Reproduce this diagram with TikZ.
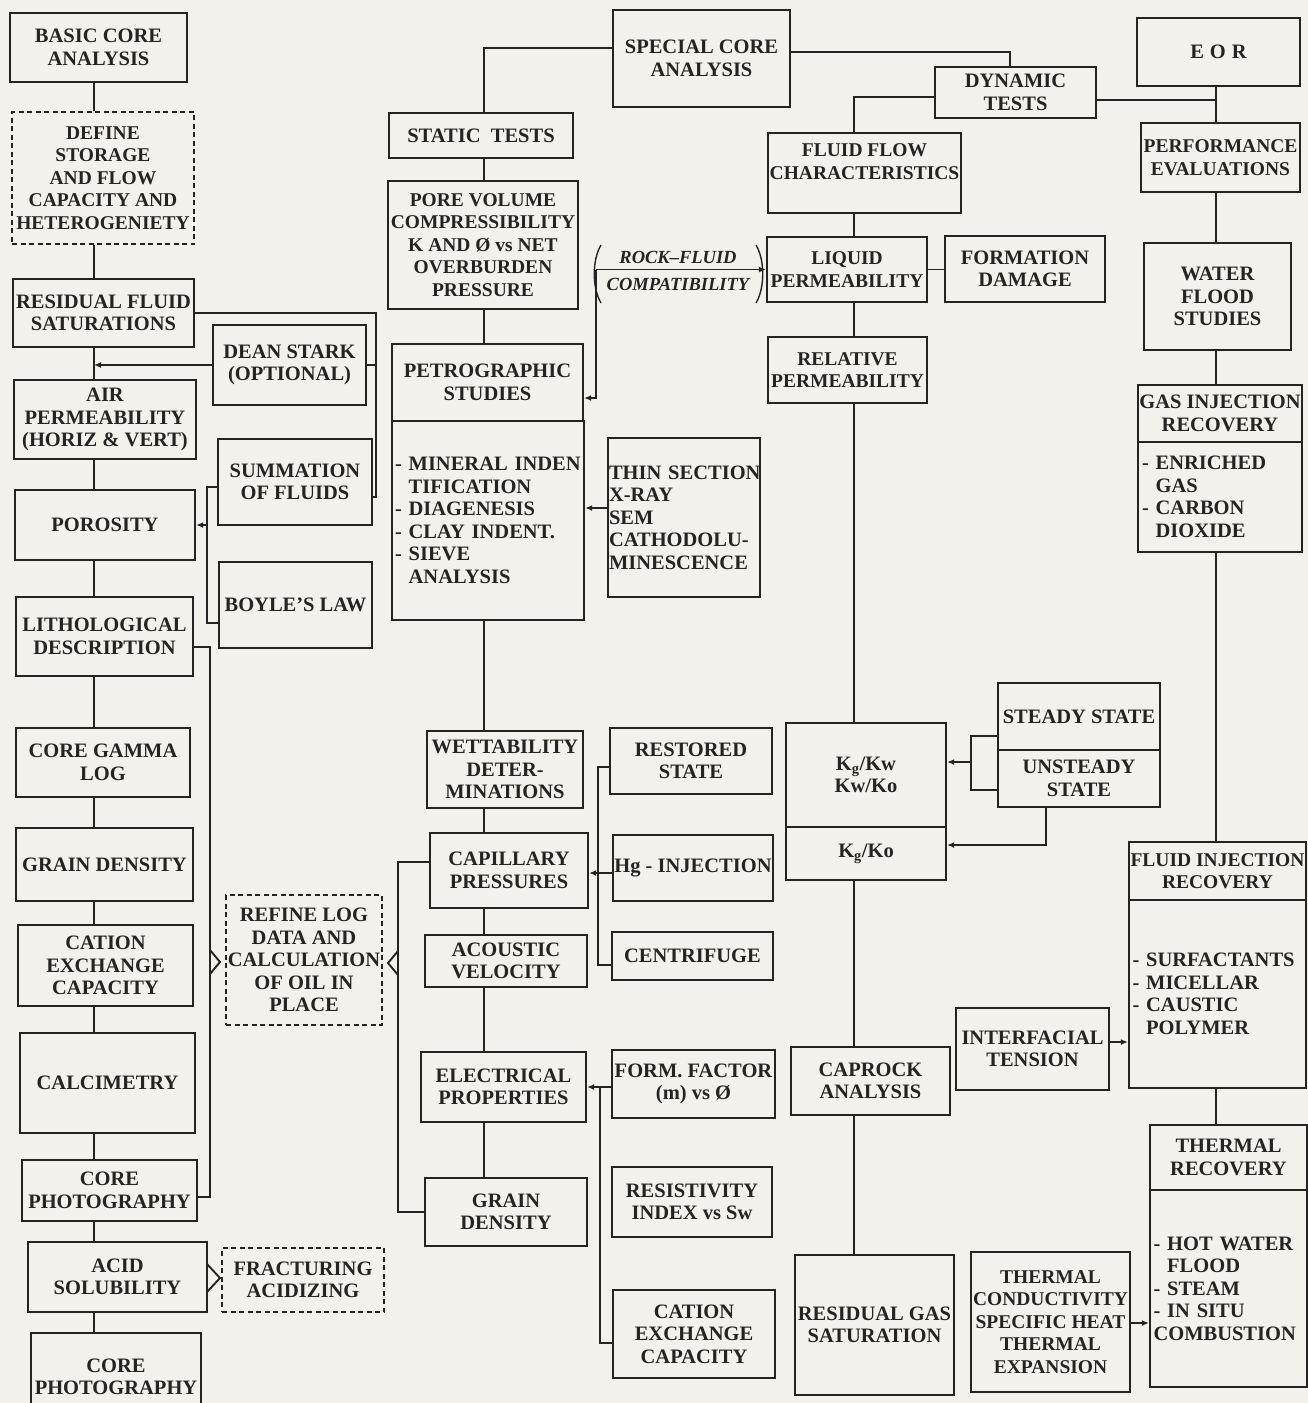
\documentclass[tikz,border=0pt]{standalone}
\usepackage{fontspec}
\setmainfont{Liberation Serif}
\usetikzlibrary{arrows.meta}
\definecolor{bg}{RGB}{244,241,237}
\definecolor{ink}{RGB}{38,36,34}
\newcommand\nohy{\hyphenpenalty 10000 \exhyphenpenalty 10000\relax}
\newcommand\cbx[7]{%
  \pgfmathsetmacro\cbxw{#5-#3}%
  \pgfmathsetmacro\cbxh{#6-#4}%
  \node[#1,minimum width=\cbxw pt,minimum height=\cbxh pt] (#2) at ({(#3+#5)/2},{(#4+#6)/2}) {#7};}
\begin{document}
\begin{tikzpicture}[x=1pt,y=-1pt,
  box/.style={draw=ink,line width=2.3pt,inner xsep=1pt,inner ysep=2pt,align=center,text=ink,
    font={\fontsize{20.5}{22.5}\selectfont\bfseries\nohy}},
  sm/.style={font={\fontsize{19.5}{22.5}\selectfont\bfseries\nohy}},
  dbox/.style={box,dash pattern=on 5pt off 3.5pt,line width=2.5pt},
  lbox/.style={box,align=left},
  ln/.style={draw=ink,line width=1.9pt},
  arr/.style={ln,-{Latex[length=7pt,width=6pt]}},
  rflab/.style={text=ink,inner sep=0pt,font=\fontsize{18.5}{20}\selectfont\bfseries\itshape}
]
\useasboundingbox (0,0) rectangle (1308,1403);
\fill[bg] (0,0) rectangle (1308,1403);

% ---------- left column
\cbx{box}{basic}{10}{13}{187}{82}{BASIC CORE\\ANALYSIS}
\cbx{dbox,sm}{define}{12}{112}{194}{244}{DEFINE\\STORAGE\\AND FLOW\\CAPACITY AND\\HETEROGENIETY}
\cbx{box}{rfs}{13}{279}{194}{347}{RESIDUAL FLUID\\SATURATIONS}
\cbx{box}{dean}{213}{325}{366}{405}{DEAN STARK\\(OPTIONAL)}
\cbx{box}{air}{14}{380}{196}{459}{AIR\\PERMEABILITY\\(HORIZ \& VERT)}
\cbx{box}{summ}{218}{439}{372}{525}{SUMMATION\\OF FLUIDS}
\cbx{box}{poro}{15}{490}{195}{560}{POROSITY}
\cbx{box}{boyle}{219}{562}{372}{648}{BOYLE'S LAW}
\cbx{box}{lith}{16}{597}{193}{676}{LITHOLOGICAL\\DESCRIPTION}
\cbx{box}{gamma}{16}{728}{190}{797}{CORE GAMMA\\LOG}
\cbx{box}{grain}{16}{828}{193}{901}{GRAIN DENSITY}
\cbx{box}{cec}{18}{925}{193}{1006}{CATION\\EXCHANGE\\CAPACITY}
\cbx{box}{calc}{20}{1033}{195}{1133}{CALCIMETRY}
\cbx{box}{photo}{22}{1160}{197}{1221}{CORE\\PHOTOGRAPHY}
\cbx{box}{acid}{28}{1242}{207}{1312}{ACID\\SOLUBILITY}
\cbx{dbox}{frac}{222}{1248}{384}{1312}{FRACTURING\\ACIDIZING}
\cbx{box}{photob}{31}{1333}{201}{1421}{CORE\\PHOTOGRAPHY}
\cbx{dbox}{refine}{226}{895}{382}{1025}{REFINE LOG\\DATA AND\\CALCULATION\\OF OIL IN\\PLACE}

% ---------- middle column
\cbx{box}{sca}{613}{10}{790}{107}{SPECIAL CORE\\ANALYSIS}
\cbx{box}{static}{389}{113}{573}{158}{STATIC\ \ TESTS}
\cbx{box,sm}{pore}{388}{181}{578}{309}{PORE VOLUME\\COMPRESSIBILITY\\K AND Ø vs NET\\OVERBURDEN\\PRESSURE}
\cbx{box}{petroH}{392}{344}{583}{421}{PETROGRAPHIC\\STUDIES}
\cbx{lbox,text width=186pt}{petroB}{392}{421}{584}{620}{- MINERAL INDEN\\\hphantom{- }TIFICATION\\- DIAGENESIS\\- CLAY INDENT.\\- SIEVE\\\hphantom{- }ANALYSIS}
\cbx{lbox,text width=150pt}{thin}{608}{438}{760}{597}{\mbox{THIN SECTION}\\X-RAY\\SEM\\CATHODOLU-\\MINESCENCE}
\cbx{box}{wett}{427}{731}{583}{808}{WETTABILITY\\DETER-\\MINATIONS}
\cbx{box}{rest}{610}{728}{772}{794}{RESTORED\\STATE}
\cbx{box}{capp}{430}{833}{588}{908}{CAPILLARY\\PRESSURES}
\cbx{box}{hg}{613}{835}{773}{901}{Hg - INJECTION}
\cbx{box}{cent}{612}{932}{773}{980}{CENTRIFUGE}
\cbx{box}{acou}{425}{935}{587}{987}{ACOUSTIC\\VELOCITY}
\cbx{box}{elec}{421}{1052}{586}{1122}{ELECTRICAL\\PROPERTIES}
\cbx{box}{form}{612}{1050}{775}{1118}{FORM. FACTOR\\(m) vs Ø}
\cbx{box}{gdm}{425}{1178}{587}{1246}{GRAIN\\DENSITY}
\cbx{box}{resi}{612}{1167}{772}{1237}{RESISTIVITY\\INDEX vs Sw}
\cbx{box}{cecm}{613}{1290}{775}{1378}{CATION\\EXCHANGE\\CAPACITY}

% ---------- right-middle column
\cbx{box}{dyn}{935}{67}{1096}{118}{DYNAMIC\\TESTS}
\cbx{box,sm}{ffc}{768}{133}{961}{213}{FLUID FLOW\\CHARACTERISTICS\\\mbox{}}
\cbx{box,sm}{liq}{767}{237}{927}{302}{LIQUID\\PERMEABILITY}
\cbx{box}{fdam}{945}{236}{1105}{302}{FORMATION\\DAMAGE}
\cbx{box,sm}{rel}{768}{337}{927}{403}{RELATIVE\\PERMEABILITY}
\cbx{box}{kga}{786}{723}{946}{827}{K\textsubscript{g}/Kw\\Kw/Ko}
\cbx{box}{kgb}{786}{827}{946}{880}{K\textsubscript{g}/Ko}
\cbx{box}{ss}{998}{683}{1160}{750}{STEADY STATE}
\cbx{box}{us}{998}{750}{1160}{807}{UNSTEADY\\STATE}
\cbx{box}{caprock}{791}{1047}{950}{1115}{CAPROCK\\ANALYSIS}
\cbx{box}{ift}{956}{1008}{1109}{1090}{INTERFACIAL\\TENSION}
\cbx{box}{rgs}{795}{1255}{954}{1395}{RESIDUAL GAS\\SATURATION}
\cbx{box,sm}{tcs}{971}{1252}{1130}{1392}{THERMAL\\CONDUCTIVITY\\SPECIFIC HEAT\\THERMAL\\EXPANSION}

% ---------- right column
\cbx{box}{eor}{1137}{18}{1300}{86}{E\hspace{6pt}O\hspace{6pt}R}
\cbx{box,sm}{perf}{1141}{123}{1300}{192}{PERFORMANCE\\EVALUATIONS}
\cbx{box}{wfs}{1144}{243}{1291}{350}{WATER\\FLOOD\\STUDIES}
\cbx{box}{gih}{1138}{385}{1302}{442}{GAS INJECTION\\RECOVERY}
\cbx{lbox,text width=156pt}{gib}{1138}{442}{1302}{552}{- ENRICHED\\\hphantom{- }GAS\\- CARBON\\\hphantom{- }DIOXIDE}
\cbx{box,sm}{fih}{1129}{842}{1306}{900}{FLUID INJECTION\\RECOVERY}
\cbx{lbox,text width=170pt}{fib}{1129}{900}{1306}{1088}{- SURFACTANTS\\- MICELLAR\\- CAUSTIC\\\hphantom{- }POLYMER}
\cbx{box}{trh}{1150}{1125}{1307}{1190}{THERMAL\\RECOVERY}
\cbx{lbox,text width=150pt}{trb}{1150}{1190}{1307}{1387}{- HOT WATER\\\hphantom{- }FLOOD\\- STEAM\\- IN SITU\\COMBUSTION}

% ---------- rock-fluid label
\node[rflab] (rfa) at (678,257) {ROCK--FLUID};
\node[rflab] (rfb) at (678,284) {COMPATIBILITY};

% ---------- helper coordinates
\coordinate (cL) at (94,0);
\coordinate (cM) at (484,0);
\coordinate (cR) at (854,0);
\coordinate (cE) at (1216,0);
\foreach \y in {48,52,97,100,313,365,398,487,497,508,525,623,647,736,762,767,790,845,862,873,962,965,1042,1087,1197,1212,1323,1343}
  \coordinate (h\y) at (0,\y);
\coordinate (xd) at (1010,0);
\coordinate (rf) at (596,0);
\coordinate (b1) at (598,0);
\coordinate (b2) at (600,0);
\coordinate (b3) at (207,0);
\coordinate (b4) at (376,0);
\coordinate (b5) at (210,0);
\coordinate (b6) at (398,0);
\coordinate (b7) at (971,0);
\coordinate (b8) at (1046,0);

% ---------- column connectors
\foreach \a/\b in {basic/define,define/rfs,rfs/air,air/poro,poro/lith,lith/gamma,gamma/grain,grain/cec,cec/calc,calc/photo,photo/acid,acid/photob}
  \draw[ln] (\a.south -| cL) -- (\b.north -| cL);
\foreach \a/\b in {static/pore,pore/petroH,petroB/wett,wett/capp,capp/acou,acou/elec,elec/gdm}
  \draw[ln] (\a.south -| cM) -- (\b.north -| cM);
\foreach \a/\b in {ffc/liq,liq/rel,rel/kga,kgb/caprock,caprock/rgs}
  \draw[ln] (\a.south -| cR) -- (\b.north -| cR);
\foreach \a/\b in {eor/perf,perf/wfs,wfs/gih,gib/fih,fib/trh}
  \draw[ln] (\a.south -| cE) -- (\b.north -| cE);

% ---------- top branches
\draw[ln] (sca.west |- h48) -| (static.north -| cM);
\draw[ln] (sca.east |- h52) -| (dyn.north -| xd);
\draw[ln] (dyn.west |- h97) -| (ffc.north -| cR);
\draw[ln] (dyn.east |- h100) -- (h100 -| cE);
\draw[ln] (liq.east) -- (liq.east -| fdam.west);

% ---------- rock-fluid compatibility
\draw[arr] (liq.west -| rf) -- (liq.west);
\draw[arr] (liq.west -| rf) |- (petroH.east |- h398);
\draw[ln,line width=1.4pt] (601,245) .. controls (592,260) and (592,288) .. (601,303);
\draw[ln,line width=1.4pt] (756,245) .. controls (765,260) and (765,288) .. (756,303);

% ---------- left side brackets
\draw[ln] (rfs.east |- h313) -- (b4 |- h313) -- (b4 |- h497) -- (summ.east |- h497);
\draw[ln] (dean.east |- h365) -- (b4 |- h365);
\draw[arr] (dean.west |- h365) -- (cL |- h365);
\draw[ln] (summ.west |- h487) -- (b3 |- h487) -- (b3 |- h623) -- (boyle.west |- h623);
\draw[arr] (b3 |- h525) -- (poro.east |- h525);
\draw[ln] (lith.east |- h647) -- (b5 |- h647) -- (b5 |- h1197) -- (photo.east |- h1197);
\draw[ln] (210,950) -- (220,962) -- (210,974);
\draw[ln] (capp.west |- h862) -- (b6 |- h862) -- (b6 |- h1212) -- (gdm.west |- h1212);
\draw[ln] (398,951) -- (388,963) -- (398,975);
\draw[ln] (207,1264) -- (220,1278) -- (207,1292);

% ---------- middle brackets
\draw[arr] (thin.west |- h508) -- (petroB.east |- h508);
\draw[ln] (rest.west |- h767) -- (b1 |- h767) -- (b1 |- h965) -- (cent.west |- h965);
\draw[arr] (hg.west |- h873) -- (capp.east |- h873);
\draw[ln] (form.west |- h1087) -- (b2 |- h1087) -- (b2 |- h1343) -- (cecm.west |- h1343);
\draw[arr] (b2 |- h1087) -- (elec.east |- h1087);

% ---------- right-middle brackets
\draw[ln] (ss.west |- h736) -- (b7 |- h736) -- (b7 |- h790) -- (us.west |- h790);
\draw[arr] (b7 |- h762) -- (kga.east |- h762);
\draw[arr] (us.south -| b8) -- (b8 |- h845) -- (kgb.east |- h845);
\draw[arr] (ift.east |- h1042) -- (fib.west |- h1042);
\draw[arr] (tcs.east |- h1323) -- (trb.west |- h1323);
\end{tikzpicture}
\end{document}
